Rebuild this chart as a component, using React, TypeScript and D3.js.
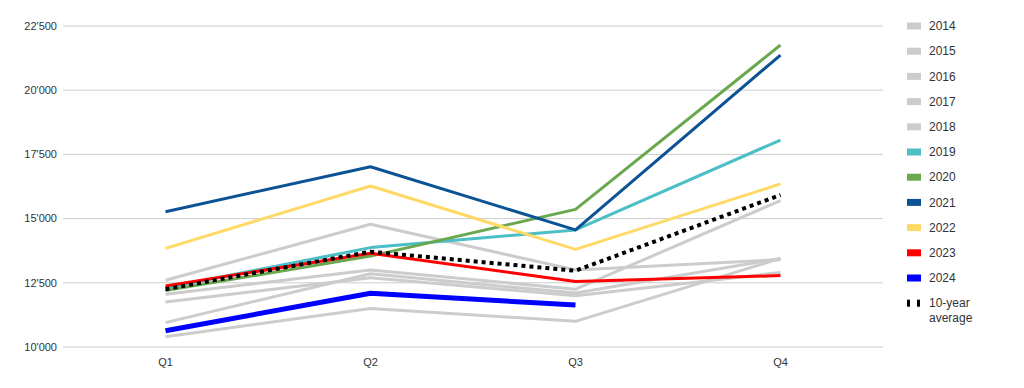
import React from 'react';
import * as d3 from 'd3';

const WIDTH = 1024;
const HEIGHT = 388;

const quarters = ['Q1', 'Q2', 'Q3', 'Q4'];
const yTicks = [10000, 12500, 15000, 17500, 20000, 22500];

const years = ['2014', '2015', '2016', '2017', '2018', '2019', '2020', '2021', '2022', '2023', '2024'];
const v2014 = [10400, 11500, 11000, 13450];
const v2015 = [10950, 12850, 12100, 13450];
const v2016 = [11750, 12700, 12000, 12900];
const v2017 = [12050, 13000, 12250, 15700];
const v2018 = [12600, 14780, 13000, 13400];
const v2019 = [12300, 13870, 14560, 18060];
const v2020 = [12200, 13540, 15360, 21760];
const v2021 = [15270, 17020, 14560, 21370];
const v2022 = [13840, 16270, 13800, 16350];
const v2023 = [12375, 13650, 12550, 12780];
const v2024 = [10635, 12090, 11635];
const average = [12250, 13710, 12970, 15920];

const seriesValues = [v2014, v2015, v2016, v2017, v2018, v2019, v2020, v2021, v2022, v2023, v2024];
const colors = ['#cccccc', '#cccccc', '#cccccc', '#cccccc', '#cccccc', '#4bbec6', '#6aa84f', '#0b5394', '#ffd966', '#ff0000', '#0000ff'];

const margin = { left: 63, right: 141, top: 26, bottom: 41 };

const locale = d3.formatLocale({ decimal: '.', thousands: "'", grouping: [3], currency: ['', ''] });
const fmt = locale.format(',');

export default function App() {
  const x = d3.scalePoint<string>()
    .domain(quarters)
    .range([margin.left, WIDTH - margin.right])
    .padding(0.5);
  const y = d3.scaleLinear()
    .domain([10000, 22500])
    .range([HEIGHT - margin.bottom, margin.top]);

  const line = d3.line<number>()
    .x((_, i) => x(quarters[i]) as number)
    .y(d => y(d));

  const font = 'Arial, "Liberation Sans", sans-serif';

  return (
    <svg width={WIDTH} height={HEIGHT} style={{ position: 'absolute', left: 0, top: 0 }} fontFamily={font}>
      <rect width={WIDTH} height={HEIGHT} fill="#fff" />
      {yTicks.map(t => (
        <g key={t}>
          <line x1={margin.left} x2={WIDTH - margin.right} y1={y(t)} y2={y(t)} stroke="#cccccc" strokeWidth={1} />
          <text x={57} y={y(t)} dy="0.35em" textAnchor="end" fontSize={11} fill="#333">{fmt(t)}</text>
        </g>
      ))}
      {quarters.map(q => (
        <text key={q} x={x(q)} y={362} dy="0.35em" textAnchor="middle" fontSize={11} fill="#333">{q}</text>
      ))}
      {seriesValues.map((vals, i) => (
        <path key={years[i]} d={line(vals) || ''} fill="none" stroke={colors[i]}
          strokeWidth={years[i] === '2024' ? 5 : 3} strokeLinejoin="round" />
      ))}
      <path d={line(average) || ''} fill="none" stroke="#000" strokeWidth={4} strokeDasharray="4 4" />
      <g transform="translate(907,0)">
        {years.map((yr, i) => (
          <g key={yr} transform={`translate(0,${26 + i * 25.2})`}>
            <rect x={0} y={-3.5} width={14} height={7} fill={colors[i]} />
            <text x={22} y={0} dy="0.35em" fontSize={12} fill="#333">{yr}</text>
          </g>
        ))}
        <g transform={`translate(0,${26 + 11 * 25.2})`}>
          <rect x={0} y={-3.5} width={3} height={7} fill="#000" />
          <rect x={10} y={-3.5} width={3} height={7} fill="#000" />
          <text x={22} y={0} dy="0.35em" fontSize={12} fill="#333">10-year</text>
          <text x={22} y={15} dy="0.35em" fontSize={12} fill="#333">average</text>
        </g>
      </g>
    </svg>
  );
}
